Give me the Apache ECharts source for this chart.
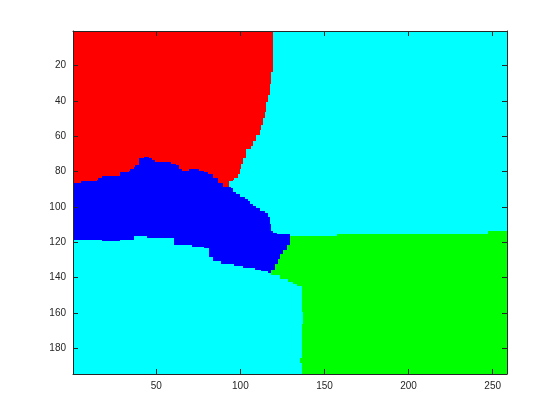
<!DOCTYPE html>
<html>
<head>
<meta charset="utf-8">
<script src="https://cdn.jsdelivr.net/npm/echarts@6.0.0/dist/echarts.min.js"></script>
<style>
  html, body { margin: 0; padding: 0; background: #fff; }
  #chart { width: 560px; height: 420px; }
</style>
</head>
<body>
<div id="chart"></div>
<script>
// image size (columns x rows) and tick labels
const nCols = 258
const nRows = 194
const xTicks = [50, 100, 150, 200, 250]
const yTicks = [20, 40, 60, 80, 100, 120, 140, 160, 180]

// red region: [firstRow, lastRow, lastRedCol]
const redRight = [
  [1, 23, 119], [24, 30, 118], [31, 36, 117], [37, 40, 116], [41, 46, 115],
  [47, 49, 114], [50, 53, 113], [54, 56, 112], [57, 59, 111], [60, 62, 109],
  [63, 65, 107], [66, 67, 106], [68, 72, 103], [73, 75, 101], [76, 78, 100],
  [79, 81, 99], [82, 83, 98], [84, 84, 96], [85, 85, 95], [86, 88, 93]
]

// blue region, per column: [firstCol, lastCol, firstBlueRow]
const blueTop = [
  [1, 5, 87], [6, 14, 86], [15, 15, 85], [16, 17, 84], [18, 28, 83],
  [29, 33, 81], [34, 34, 80], [35, 36, 79], [37, 37, 78], [38, 39, 77],
  [40, 42, 73], [43, 45, 72], [46, 47, 73], [48, 49, 74], [50, 58, 75],
  [59, 61, 76], [62, 63, 77], [64, 65, 79], [66, 69, 80], [70, 75, 79],
  [76, 78, 80], [79, 80, 81], [81, 83, 82], [84, 86, 84], [87, 89, 87],
  [90, 94, 89], [95, 95, 90], [96, 97, 92], [98, 99, 93], [100, 102, 95],
  [103, 104, 96], [105, 105, 97], [106, 107, 99], [108, 109, 100], [110, 111, 101],
  [112, 114, 103], [115, 116, 104], [117, 117, 106], [118, 118, 110], [119, 119, 114],
  [120, 121, 115], [122, 129, 116]
]
// blue region, per column: [firstCol, lastCol, lastBlueRow]
const blueBottom = [
  [1, 17, 118], [18, 28, 119], [29, 36, 118], [37, 44, 116], [45, 60, 117],
  [61, 71, 121], [72, 78, 122], [79, 81, 123], [82, 83, 128], [84, 88, 130],
  [89, 96, 132], [97, 101, 133], [102, 108, 134], [109, 112, 135], [113, 116, 136],
  [117, 121, 137], [122, 129, 135]
]

// green region: [firstRow, lastRow, firstGreenCol]
const greenLeft = [
  [114, 115, 248], [116, 116, 158], [117, 121, 130], [122, 124, 128], [125, 126, 126],
  [127, 129, 124], [130, 132, 123], [133, 135, 121], [136, 138, 119], [139, 140, 124],
  [141, 142, 129], [143, 143, 132], [144, 144, 134], [145, 159, 137], [160, 166, 138],
  [167, 185, 137], [186, 188, 136], [189, 194, 137]
]

function lookup (runs, c) {
  for (const r of runs) {
    if (c >= r[0] && c <= r[1]) return r[2]
  }
  return null
}

// rectangles as [x0, x1, y0, y1] in cell units
const cyanData = [[0.5, nCols + 0.5, 0.5, nRows + 0.5]]
const redData = redRight.map(([r0, r1, c]) => [0.5, c + 0.5, r0 - 0.5, r1 + 0.5])
const blueData = []
for (let c = 1; c <= 129; c++) {
  const top = lookup(blueTop, c)
  const bottom = lookup(blueBottom, c)
  blueData.push([c - 0.5, c + 0.5, top - 0.5, bottom + 0.5])
}
const greenData = greenLeft.map(([r0, r1, c]) => [c - 0.5, nCols + 0.5, r0 - 0.5, r1 + 0.5])

function rectSeries (data, color) {
  return {
    type: 'custom',
    data: data,
    clip: true,
    silent: true,
    encode: { x: [0, 1], y: [2, 3] },
    renderItem: (params, api) => {
      const p0 = api.coord([api.value(0), api.value(2)])
      const p1 = api.coord([api.value(1), api.value(3)])
      // snap to whole pixels so neighbouring cells leave no seams
      const x0 = Math.round(Math.min(p0[0], p1[0]))
      const x1 = Math.round(Math.max(p0[0], p1[0]))
      const y0 = Math.round(Math.min(p0[1], p1[1]))
      const y1 = Math.round(Math.max(p0[1], p1[1]))
      return {
        type: 'rect',
        shape: { x: x0, y: y0, width: x1 - x0, height: y1 - y0 },
        style: { fill: color }
      }
    }
  }
}

const axisColor = '#262626'
const labelStyle = { color: axisColor, fontSize: 10, fontFamily: 'Liberation Sans, Arial, sans-serif' }

function makeAxis (pos, min, max, ticks, showLabel, inverse) {
  return {
    type: 'value',
    position: pos,
    min: min,
    max: max,
    inverse: inverse,
    z: 5,
    splitLine: { show: false },
    axisLine: { show: true, onZero: false, lineStyle: { color: axisColor, width: 1 } },
    axisTick: { show: true, inside: true, length: 5, customValues: ticks, lineStyle: { color: axisColor } },
    axisLabel: Object.assign({ show: showLabel, customValues: ticks, margin: 7 }, labelStyle)
  }
}

const chart = echarts.init(document.getElementById('chart'))
chart.setOption({
  animation: false,
  backgroundColor: '#fff',
  grid: { left: 73, right: 53, top: 31, bottom: 46, containLabel: false },
  xAxis: [
    makeAxis('bottom', 0.5, nCols + 0.5, xTicks, true, false),
    makeAxis('top', 0.5, nCols + 0.5, xTicks, false, false)
  ],
  yAxis: [
    makeAxis('left', 0.5, nRows + 0.5, yTicks, true, true),
    makeAxis('right', 0.5, nRows + 0.5, yTicks, false, true)
  ],
  series: [
    rectSeries(cyanData, '#00ffff'),
    rectSeries(redData, '#ff0000'),
    rectSeries(blueData, '#0000ff'),
    rectSeries(greenData, '#00ff00')
  ]
})
</script>
</body>
</html>
